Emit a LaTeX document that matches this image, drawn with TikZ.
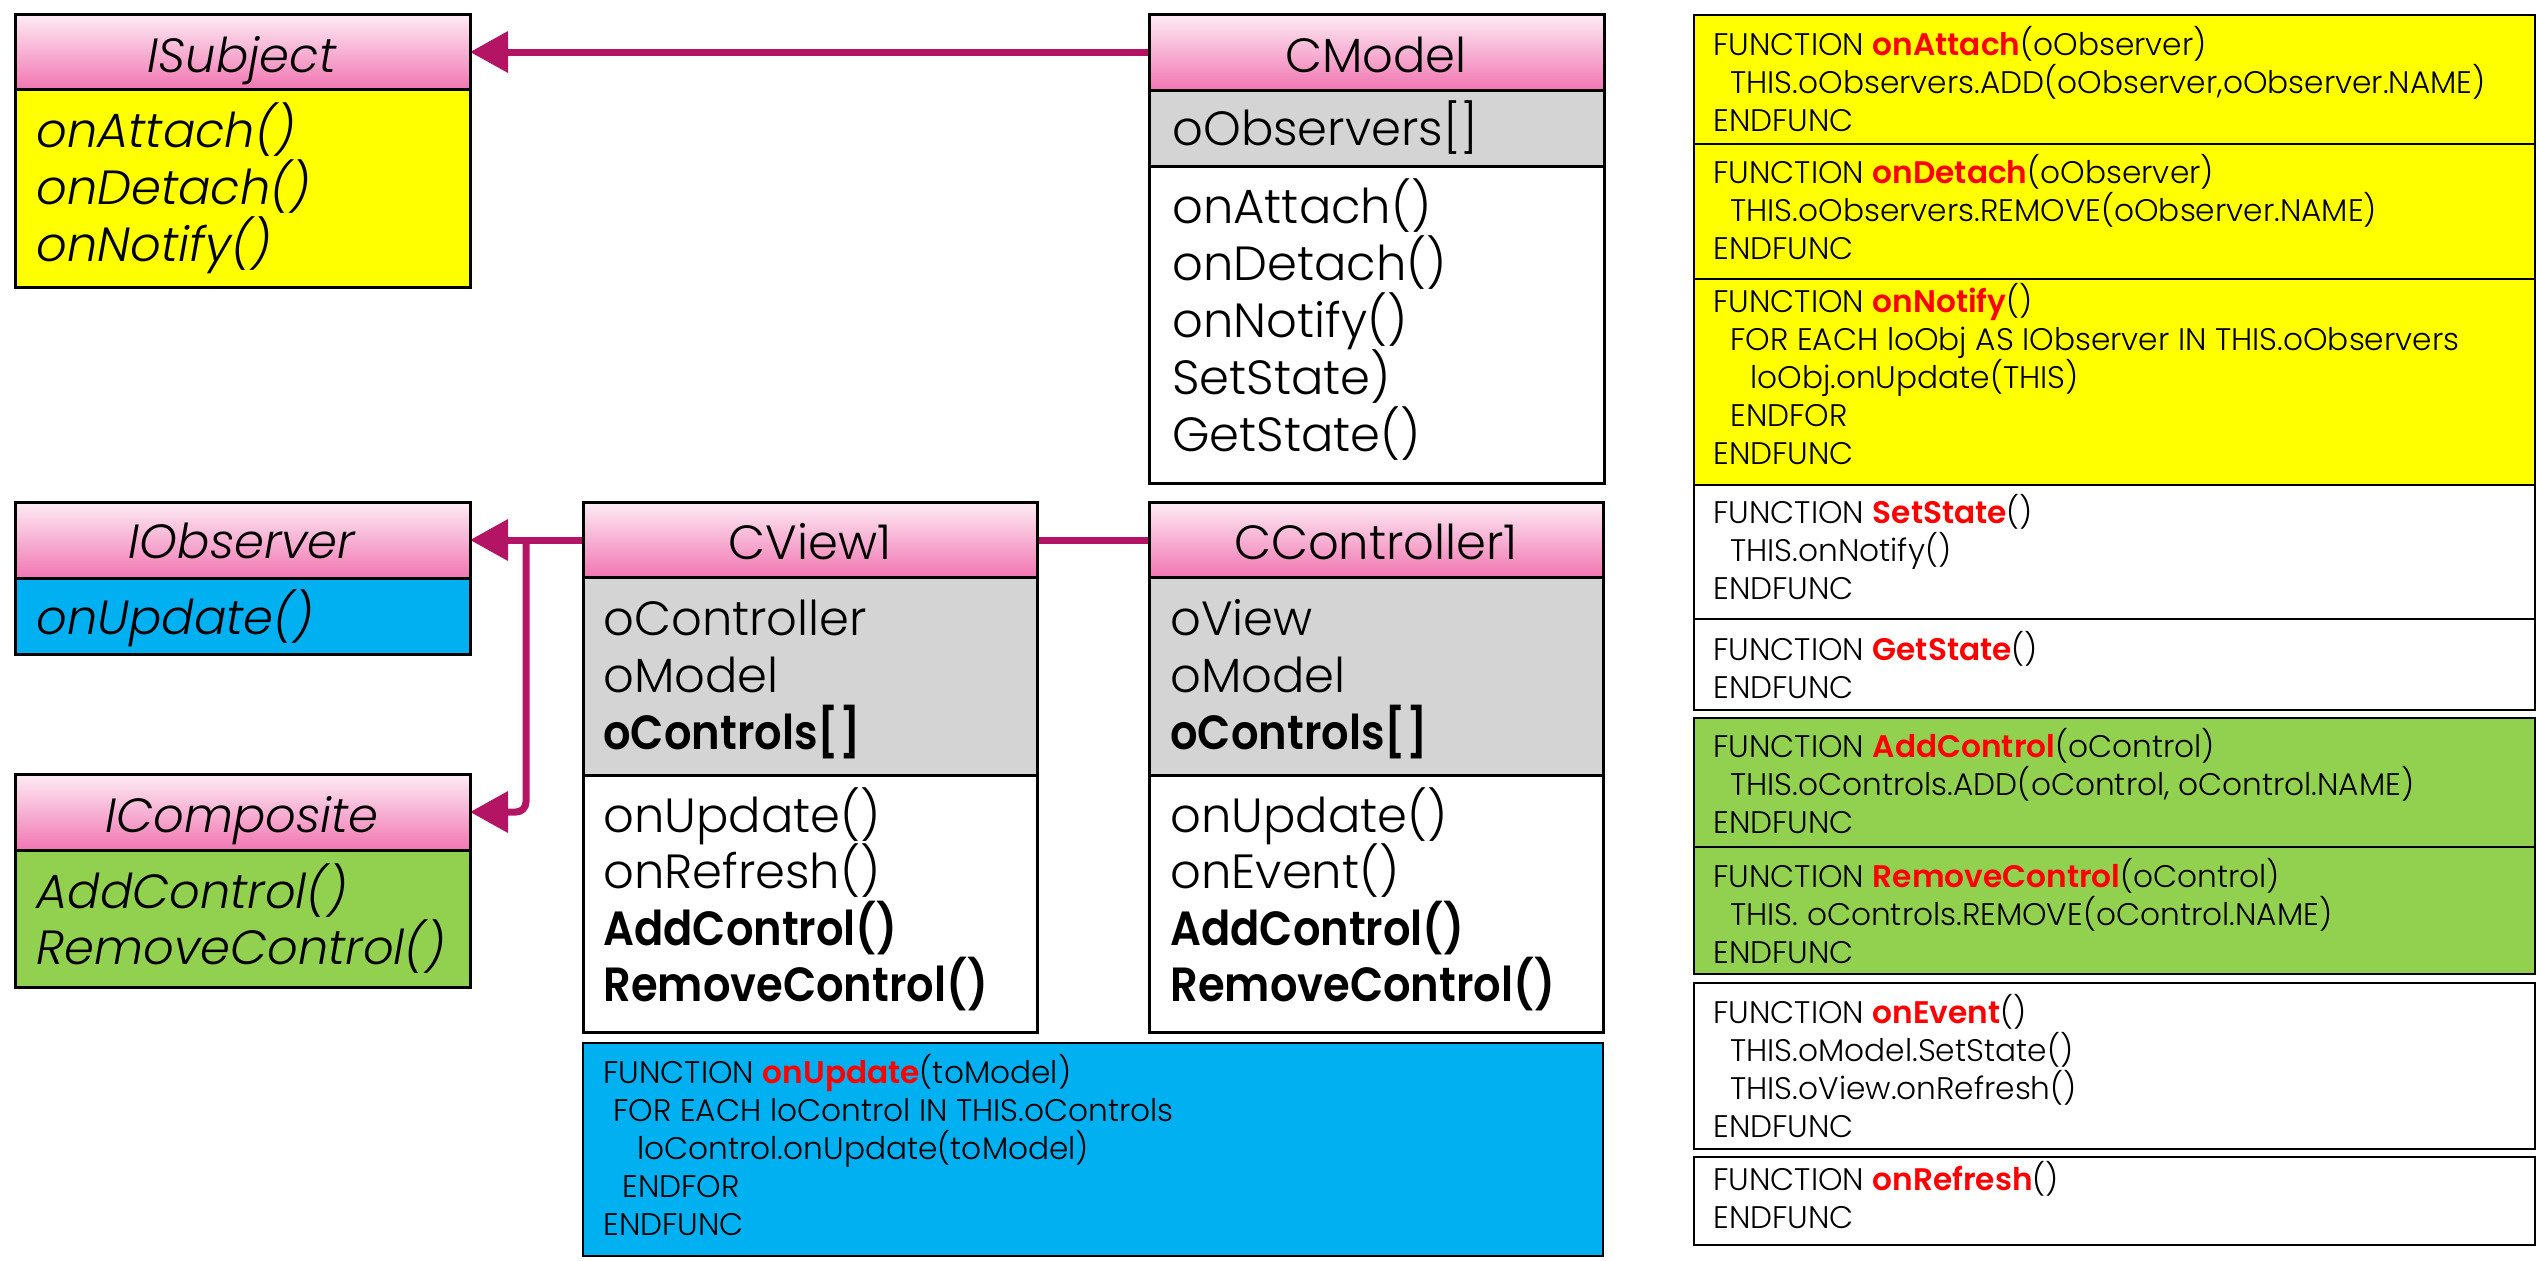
\documentclass[tikz,border=0pt]{standalone}
\usepackage{fontspec}
\setmainfont{Poppins}[UprightFont=* Light, ItalicFont=* Light Italic, BoldFont=* SemiBold, BoldItalicFont=* SemiBold Italic]
\usetikzlibrary{arrows.meta,fit}

\definecolor{hdrtop}{RGB}{253,236,245}
\definecolor{hdrbot}{RGB}{241,118,178}
\definecolor{cattr}{RGB}{212,212,212}
\definecolor{cyel}{RGB}{255,255,0}
\definecolor{cblue}{RGB}{0,176,240}
\definecolor{cgreen}{RGB}{146,208,80}
\definecolor{clink}{RGB}{180,20,100}
\definecolor{cred}{RGB}{255,0,0}

% red bold function name inside pseudo code
\newcommand\fn[1]{{\bfseries\color{cred}#1}}
\newcommand\Ia{\hspace*{8.5pt}}
\newcommand\Ib{\hspace*{18.5pt}}

% a column of text lines: name prefix, style, x, first baseline, step, lines
\newcommand\textlines[6]{%
  \foreach \ln [count=\k] in {#6}{%
    \node[#2] (#1\k) at (#3,{#4+(\k-1)*#5}) {\ln};}}

\tikzset{
  part/.style={draw=black, line width=1.5pt, inner sep=0pt},
  hdr/.style={part, top color=hdrtop, bottom color=hdrbot},
  codebox/.style={draw=black, line width=1pt, inner sep=0pt},
  umltxt/.style={font=\fontsize{24pt}{28pt}\selectfont, inner sep=0pt, anchor=base west},
  umlit/.style={umltxt, font=\fontsize{24pt}{28pt}\selectfont\itshape},
  umlbf/.style={umltxt, font=\fontsize{24pt}{28pt}\selectfont\bfseries\addfontfeatures{FakeStretch=0.9}},
  codetxt/.style={font=\fontsize{15.6pt}{19pt}\selectfont, inner sep=0pt, anchor=base west},
  link/.style={draw=clink, line width=3.5pt, line cap=round},
  inherit/.style={draw=clink, line width=3.5pt, -{Triangle[length=19pt,width=20pt]}},
}

\begin{document}
\begin{tikzpicture}[x=0.5pt, y=-0.5pt]
\useasboundingbox (0,0) rectangle (2539,1260);

% ---------- connectors ----------
\coordinate (cmodW) at (1149,52);
\coordinate (isubE) at (470,52);
\coordinate (cviewW) at (583,540);
\coordinate (iobsE) at (470,540);
\coordinate (jx) at (526,540);
\coordinate (icmpE) at (470,812);
\coordinate (cviewE) at (1037,540);
\coordinate (cctlW) at (1149,540);
\draw[inherit] (cmodW) -- (isubE);
\draw[inherit] (cviewW) -- (iobsE);
\draw[inherit, rounded corners=5pt] (jx) |- (icmpE);
\draw[link] (cviewE) -- (cctlW);

% ---------- ISubject ----------
\node[hdr, fit={(15,14) (470,89)}] (isubH) {};
\node[part, fill=cyel, fit={(15,89) (470,287)}] (isubB) {};
\node[umlit, anchor=base] (isubT) at (242,72) {ISubject};
\textlines{isubm}{umlit}{36}{147}{57}{{onAttach()},{onDetach()},{onNotify()}}

% ---------- IObserver ----------
\node[hdr, fit={(15,502) (470,578)}] (iobsH) {};
\node[part, fill=cblue, fit={(15,578) (470,654)}] (iobsB) {};
\node[umlit, anchor=base] (iobsT) at (242,558) {IObserver};
\textlines{iobsm}{umlit}{36}{634}{57}{{onUpdate()}}

% ---------- IComposite ----------
\node[hdr, fit={(15,774) (470,850)}] (icmpH) {};
\node[part, fill=cgreen, fit={(15,850) (470,987)}] (icmpB) {};
\node[umlit, anchor=base] (icmpT) at (242,832) {IComposite};
\textlines{icmpm}{umlit}{36}{908}{56}{{AddControl()},{RemoveControl()}}

% ---------- CModel ----------
\node[hdr, fit={(1149,14) (1604,90)}] (cmodH) {};
\node[part, fill=cattr, fit={(1149,90) (1604,166)}] (cmodA) {};
\node[part, fill=white, fit={(1149,166) (1604,483)}] (cmodM) {};
\node[umltxt, anchor=base] (cmodT) at (1376,72) {CModel};
\node[umltxt] (cmoda1) at (1172,145) {oObservers[]};
\textlines{cmodm}{umltxt}{1172}{223}{57}{{onAttach()},{onDetach()},{onNotify()},{SetState)},{GetState()}}

% ---------- CView1 ----------
\node[hdr, fit={(583,502) (1037,577)}] (cviewH) {};
\node[part, fill=cattr, fit={(583,577) (1037,775)}] (cviewA) {};
\node[part, fill=white, fit={(583,775) (1037,1032)}] (cviewM) {};
\node[umltxt, anchor=base] (cviewT) at (810,559) {CView1};
\textlines{cviewa}{umltxt}{603}{635}{57}{{oController},{oModel}}
\node[umlbf] (cviewa3) at (603,749) {oControls[]};
\textlines{cviewm}{umltxt}{603}{832}{56.5}{{onUpdate()},{onRefresh()}}
\textlines{cviewb}{umlbf}{603}{945}{56.5}{{AddControl()},{RemoveControl()}}

% ---------- CController1 ----------
\node[hdr, fit={(1149,502) (1603,577)}] (cctlH) {};
\node[part, fill=cattr, fit={(1149,577) (1603,775)}] (cctlA) {};
\node[part, fill=white, fit={(1149,775) (1603,1032)}] (cctlM) {};
\node[umltxt, anchor=base] (cctlT) at (1376,559) {CController1};
\textlines{cctla}{umltxt}{1170}{635}{57}{{oView},{oModel}}
\node[umlbf] (cctla3) at (1170,749) {oControls[]};
\textlines{cctlm}{umltxt}{1170}{832}{56.5}{{onUpdate()},{onEvent()}}
\textlines{cctlb}{umlbf}{1170}{945}{56.5}{{AddControl()},{RemoveControl()}}

% ---------- onUpdate pseudo code ----------
\node[codebox, fill=cblue, fit={(583,1043) (1603,1256)}] (updBox) {};
\textlines{upd}{codetxt}{603}{1083}{38}{%
  {FUNCTION \fn{onUpdate}(toModel)},
  {\hspace*{5pt}FOR EACH loControl IN THIS.oControls},
  {\hspace*{17pt}loControl.onUpdate(toModel)},
  {\hspace*{9.5pt}ENDFOR},
  {ENDFUNC}}

% ---------- method bodies ----------
\node[codebox, fill=cyel, fit={(1694,15) (2535,144)}] (bAtt) {};
\node[codebox, fill=cyel, fit={(1694,144) (2535,279)}] (bDet) {};
\node[codebox, fill=cyel, fit={(1694,279) (2535,485)}] (bNot) {};
\node[codebox, fill=white, fit={(1694,485) (2535,619)}] (bSet) {};
\node[codebox, fill=white, fit={(1694,619) (2535,710)}] (bGet) {};
\node[codebox, fill=cgreen, fit={(1694,718) (2535,847)}] (bAdd) {};
\node[codebox, fill=cgreen, fit={(1694,847) (2535,974)}] (bRem) {};
\node[codebox, fill=white, fit={(1694,983) (2535,1149)}] (bEvt) {};
\node[codebox, fill=white, fit={(1694,1157) (2535,1245)}] (bRef) {};

\textlines{att}{codetxt}{1713}{55}{38}{%
  {FUNCTION \fn{onAttach}(oObserver)},
  {\Ia THIS.oObservers.ADD(oObserver,oObserver.NAME)},
  {ENDFUNC}}
\textlines{det}{codetxt}{1713}{183}{38}{%
  {FUNCTION \fn{onDetach}(oObserver)},
  {\Ia THIS.oObservers.REMOVE(oObserver.NAME)},
  {ENDFUNC}}
\textlines{not}{codetxt}{1713}{312}{38}{%
  {FUNCTION \fn{onNotify}()},
  {\Ia FOR EACH loObj AS IObserver IN THIS.oObservers},
  {\Ib loObj.onUpdate(THIS)},
  {\Ia ENDFOR},
  {ENDFUNC}}
\textlines{set}{codetxt}{1713}{523}{38}{%
  {FUNCTION \fn{SetState}()},
  {\Ia THIS.onNotify()},
  {ENDFUNC}}
\textlines{get}{codetxt}{1713}{660}{38}{%
  {FUNCTION \fn{GetState}()},
  {ENDFUNC}}
\textlines{add}{codetxt}{1713}{757}{38}{%
  {FUNCTION \fn{AddControl}(oControl)},
  {\Ia THIS.oControls.ADD(oControl, oControl.NAME)},
  {ENDFUNC}}
\textlines{rem}{codetxt}{1713}{887}{38}{%
  {FUNCTION \fn{RemoveControl}(oControl)},
  {\Ia THIS. oControls.REMOVE(oControl.NAME)},
  {ENDFUNC}}
\textlines{evt}{codetxt}{1713}{1023}{38}{%
  {FUNCTION \fn{onEvent}()},
  {\Ia THIS.oModel.SetState()},
  {\Ia THIS.oView.onRefresh()},
  {ENDFUNC}}
\textlines{ref}{codetxt}{1713}{1190}{38}{%
  {FUNCTION \fn{onRefresh}()},
  {ENDFUNC}}
\end{tikzpicture}
\end{document}
